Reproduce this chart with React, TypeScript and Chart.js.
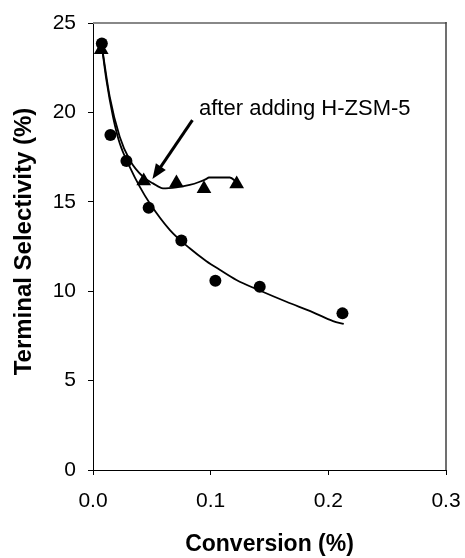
import React, { useEffect, useRef } from 'react';
import { Chart, registerables } from 'chart.js';

Chart.register(...registerables);

// Measured data (Conversion %, Terminal Selectivity %)
const circleX = [0.0075, 0.0148, 0.0284, 0.0473, 0.0751, 0.104, 0.1417, 0.212];
const circleY = [23.85, 18.74, 17.28, 14.67, 12.84, 10.58, 10.25, 8.76];

const triangleX = [0.007, 0.0431, 0.0709, 0.0943, 0.1221];
const triangleY = [23.5, 16.17, 16.05, 15.73, 16.0];

// Trend curves
const circleFitX = [0.0075, 0.0114, 0.017, 0.0227, 0.0312, 0.0397, 0.0482, 0.0654, 0.0822, 0.0964, 0.1077, 0.1219, 0.1417, 0.1644, 0.187, 0.204, 0.2131];
const circleFitY = [23.7, 21.8, 19.76, 18.27, 16.96, 15.85, 14.92, 13.42, 12.4, 11.68, 11.2, 10.63, 10.04, 9.41, 8.82, 8.33, 8.17];

const triFitX = [0.008, 0.0142, 0.0227, 0.0312, 0.0425, 0.051, 0.0595, 0.0709, 0.0822, 0.0907, 0.0964, 0.0985, 0.1163, 0.1221];
const triFitY = [23.5, 20.88, 18.64, 17.34, 16.4, 16.03, 15.75, 15.81, 15.94, 16.12, 16.28, 16.36, 16.36, 16.1];

const xTicks = [0, 0.1, 0.2, 0.3];
const yTicks = [0, 5, 10, 15, 20, 25];

const xTitle = 'Conversion (%)';
const yTitle = 'Terminal Selectivity (%)';

const noteText = 'after adding H-ZSM-5';
const noteAnchor = [0.0901, 19.85];
const arrowFrom = [0.0845, 19.57];
const arrowTo = [0.0505, 16.27];

const FONT = "'Liberation Sans', Arial, sans-serif";

const zip = (xs: number[], ys: number[]) => xs.map((x, i) => ({ x, y: ys[i] }));

const framePlugin = {
  id: 'frame',
  afterDraw(chart: any) {
    const { ctx, chartArea } = chart;
    const { left, right, top, bottom } = chartArea;
    ctx.save();
    ctx.strokeStyle = '#888888';
    ctx.lineWidth = 2;
    ctx.beginPath();
    ctx.moveTo(left, top);
    ctx.lineTo(right + 0.5, top);
    ctx.stroke();
    ctx.strokeStyle = '#404040';
    ctx.lineWidth = 1.5;
    ctx.beginPath();
    ctx.moveTo(right, top - 1);
    ctx.lineTo(right, bottom);
    ctx.stroke();

    // y-axis title
    ctx.fillStyle = '#000';
    ctx.font = `bold 24px ${FONT}`;
    ctx.textAlign = 'center';
    ctx.textBaseline = 'middle';
    ctx.translate(24, (top + bottom) / 2 - 5);
    ctx.rotate(-Math.PI / 2);
    ctx.fillText(yTitle, 0, 0);
    ctx.restore();
  },
};

const notePlugin = {
  id: 'note',
  afterDatasetsDraw(chart: any) {
    const { ctx, scales } = chart;
    const sx = scales.x;
    const sy = scales.y;
    ctx.save();
    ctx.fillStyle = '#000';
    ctx.font = `22px ${FONT}`;
    ctx.textBaseline = 'alphabetic';
    ctx.textAlign = 'left';
    ctx.fillText(noteText, sx.getPixelForValue(noteAnchor[0]), sy.getPixelForValue(noteAnchor[1]));

    const x1 = sx.getPixelForValue(arrowFrom[0]);
    const y1 = sy.getPixelForValue(arrowFrom[1]);
    const x2 = sx.getPixelForValue(arrowTo[0]);
    const y2 = sy.getPixelForValue(arrowTo[1]);
    const ang = Math.atan2(y2 - y1, x2 - x1);
    const headLen = 15;
    const headHalf = 6;
    const bx = x2 - Math.cos(ang) * headLen;
    const by = y2 - Math.sin(ang) * headLen;
    ctx.strokeStyle = '#000';
    ctx.lineWidth = 3;
    ctx.beginPath();
    ctx.moveTo(x1, y1);
    ctx.lineTo(bx + Math.cos(ang) * 2, by + Math.sin(ang) * 2);
    ctx.stroke();
    ctx.beginPath();
    ctx.moveTo(x2, y2);
    ctx.lineTo(bx + Math.sin(ang) * headHalf, by - Math.cos(ang) * headHalf);
    ctx.lineTo(bx - Math.sin(ang) * headHalf, by + Math.cos(ang) * headHalf);
    ctx.closePath();
    ctx.fill();
    ctx.restore();
  },
};

export default function App() {
  const ref = useRef<HTMLCanvasElement>(null);

  useEffect(() => {
    if (!ref.current) return;
    const chart = new Chart(ref.current, {
      type: 'scatter',
      data: {
        datasets: [
          {
            label: 'circles',
            data: zip(circleX, circleY),
            pointStyle: 'circle',
            pointRadius: 6,
            pointBackgroundColor: '#000',
            pointBorderColor: '#000',
            pointBorderWidth: 0,
            showLine: false,
          },
          {
            label: 'triangles',
            data: zip(triangleX, triangleY),
            pointStyle: 'triangle',
            pointRadius: 8.5,
            pointBackgroundColor: '#000',
            pointBorderColor: '#000',
            pointBorderWidth: 0,
            showLine: false,
          },
          {
            label: 'circle fit',
            data: zip(circleFitX, circleFitY),
            showLine: true,
            pointRadius: 0,
            borderColor: '#000',
            borderWidth: 1.8,
            cubicInterpolationMode: 'monotone',
            fill: false,
          },
          {
            label: 'triangle fit',
            data: zip(triFitX, triFitY),
            showLine: true,
            pointRadius: 0,
            borderColor: '#000',
            borderWidth: 1.8,
            cubicInterpolationMode: 'monotone',
            fill: false,
          },
        ],
      },
      options: {
        responsive: false,
        animation: false,
        events: [],
        layout: { padding: { left: 0, right: 19, top: 23, bottom: 0 } },
        plugins: {
          legend: { display: false },
          tooltip: { enabled: false },
        },
        scales: {
          x: {
            type: 'linear',
            min: 0,
            max: 0.3,
            afterBuildTicks: (s: any) => {
              s.ticks = xTicks.map((v) => ({ value: v }));
            },
            afterFit: (s: any) => {
              s.height = 88;
              s.paddingLeft = 0;
              s.paddingRight = 0;
            },
            ticks: {
              callback: (v: any) => Number(v).toFixed(1),
              color: '#000',
              font: { family: FONT, size: 21 },
              padding: 14,
              maxRotation: 0,
              autoSkip: false,
            },
            grid: { drawOnChartArea: false, drawTicks: true, tickLength: 5, color: '#000' },
            border: { display: true, color: '#000', width: 1 },
            title: {
              display: true,
              text: xTitle,
              color: '#000',
              font: { family: FONT, size: 23, weight: 'bold' },
              padding: { top: 0, bottom: 0 },
            },
          },
          y: {
            type: 'linear',
            min: 0,
            max: 25,
            afterBuildTicks: (s: any) => {
              s.ticks = yTicks.map((v) => ({ value: v }));
            },
            afterFit: (s: any) => {
              s.width = 93;
              s.paddingTop = 0;
              s.paddingBottom = 0;
            },
            ticks: {
              callback: (v: any) => String(v),
              color: '#000',
              font: { family: FONT, size: 21 },
              padding: 12,
              autoSkip: false,
            },
            grid: { drawOnChartArea: false, drawTicks: true, tickLength: 5, color: '#000' },
            border: { display: true, color: '#000', width: 1 },
            title: { display: false, text: yTitle },
          },
        },
      },
      plugins: [framePlugin, notePlugin],
    } as any);
    return () => chart.destroy();
  }, []);

  return (
    <div style={{ position: 'absolute', left: 0, top: 0, width: 465, height: 558, background: '#fff' }}>
      <canvas ref={ref} width={465} height={558} style={{ display: 'block', width: 465, height: 558 }} />
    </div>
  );
}
